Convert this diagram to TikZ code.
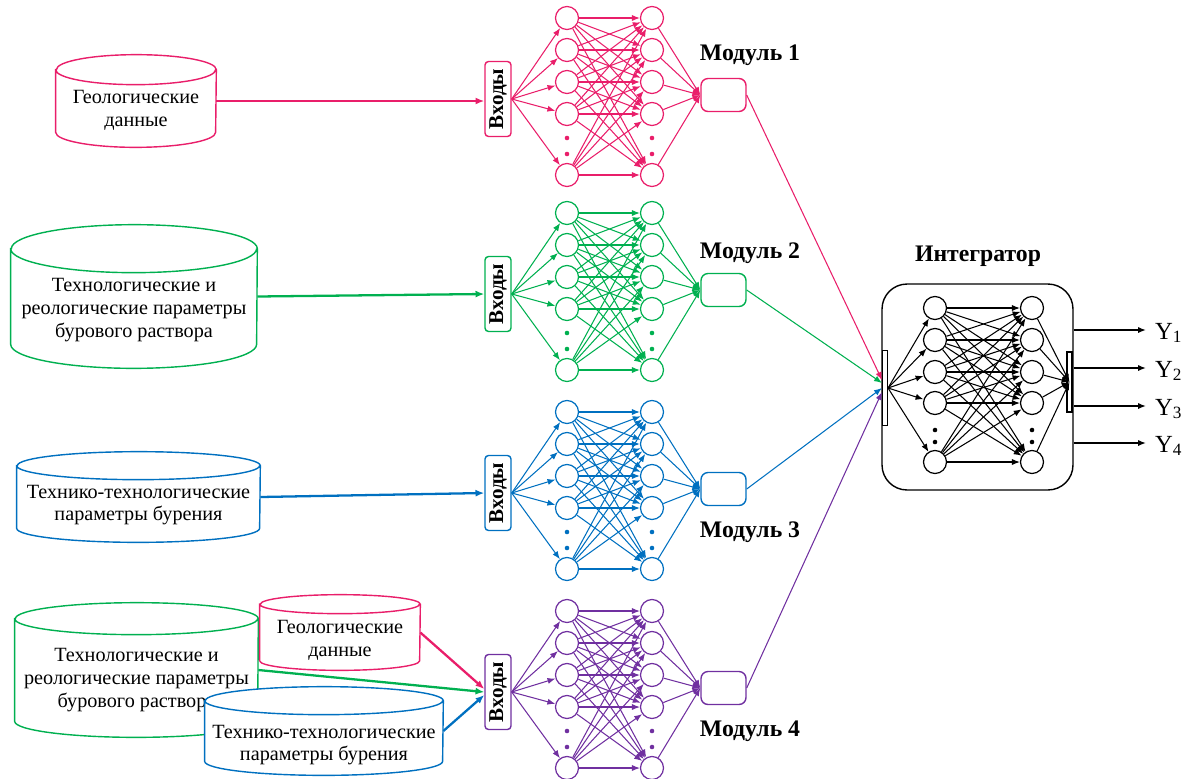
\documentclass[tikz,border=0pt]{standalone}
\usepackage{fontspec}
\setmainfont{Liberation Serif}
\usepackage{graphicx}
\usepackage{tikz}
\usetikzlibrary{calc}
\usetikzlibrary{arrows.meta}
\definecolor{crimson}{RGB}{233, 30, 106}
\definecolor{jade}{RGB}{0, 176, 80}
\definecolor{sapphire}{RGB}{0, 112, 192}
\definecolor{amethyst}{RGB}{112, 48, 160}

\tikzset{
  neuron/.style={draw, circle, minimum size=0.46cm, inner sep=0pt, line width=0.7pt},
  link/.style={-{Latex[length=4.5pt,width=3.5pt]}, line width=0.6pt},
  feed/.style={-{Latex[length=5pt,width=4pt]}, line width=1.3pt},
  inbox/.style={draw, rounded corners=2pt, minimum width=0.52cm, minimum height=1.5cm, inner sep=0pt, line width=0.8pt, text=black},
  outbox/.style={draw, rounded corners=4pt, minimum width=0.9cm, minimum height=0.66cm, inner sep=0pt, line width=0.8pt},
  bar/.style={draw, fill=white, minimum width=0.1cm, inner sep=0pt, line width=0.6pt},
  storetext/.style={align=center, font=\fontsize{11.5}{13}\selectfont},
  modlabel/.style={font=\fontsize{13.5}{15}\selectfont\bfseries},
}
% name, colour, position, width, body height, end radius
\newcommand{\storage}[6]{%
  \node[minimum width=#4, minimum height=#5, inner sep=0pt] (#1) at #3 {};
  \filldraw[#2, fill=white, line width=0.8pt]
    (#1.north west) -- (#1.south west) arc[start angle=180, end angle=360, x radius=#4/2, y radius=#6]
    -- (#1.north east) arc[start angle=0, end angle=180, x radius=#4/2, y radius=#6] -- cycle
    (#1.north west) arc[start angle=180, end angle=360, x radius=#4/2, y radius=#6];
}

\begin{document}
\begin{tikzpicture}[x=0.02cm, y=-0.02cm]
    \useasboundingbox (0,0) rectangle (1189,778);

    \foreach \m/\col/\by/\ly in {1/crimson/18/55, 2/jade/213/253, 3/sapphire/412/532, 4/amethyst/611/731}{
        \node[inbox, draw=\col] (in\m)  at (498,\by+81) {\rotatebox{90}{\fontsize{12}{12}\selectfont\bfseries Входы}};
        \node[outbox, draw=\col] (out\m) at (723.5,\by+77) {};
        \node[modlabel] (mod\m) at (750,\ly) {Модуль \m};
        \foreach \i/\dy in {1/0, 2/32, 3/64, 4/96, 5/157}{
            \node[neuron, draw=\col] (m\m-a\i) at (567,\by+\dy) {};
            \node[neuron, draw=\col] (m\m-b\i) at (652,\by+\dy) {};
            \draw[link, \col] (in\m.east) -- (m\m-a\i);
            \draw[link, \col] (m\m-b\i) -- (out\m.west);
        }
        \foreach \i in {1,...,5}
            \foreach \j in {1,...,5}
                \draw[link, \col] (m\m-a\i) -- (m\m-b\j);
        \fill[\col] (567,\by+120) circle (1.3pt) (567,\by+136) circle (1.3pt)
                    (652,\by+120) circle (1.3pt) (652,\by+136) circle (1.3pt);
    }

    \node[modlabel] (integ-title) at (978,256) {Интегратор};
    \node[draw, rounded corners=0.5cm, minimum width=3.82cm, minimum height=4.12cm, line width=0.8pt] (integ) at (977.5,387) {};
    \node[bar, minimum height=1.5cm] (lbar) at (885,388) {};
    \node[bar, minimum height=1.2cm] (rbar) at (1069.5,382) {};
    \foreach \i/\yy in {1/308, 2/340, 3/372, 4/403, 5/462}{
        \node[neuron] (int-a\i) at (935,\yy) {};
        \node[neuron] (int-b\i) at (1032,\yy) {};
        \draw[link] (lbar.east) -- (int-a\i);
        \draw[link] (int-b\i) -- (rbar.center);
    }
    \foreach \i in {1,...,5}
        \foreach \j in {1,...,5}
            \draw[link] (int-a\i) -- (int-b\j);
    \fill (935,430) circle (1.3pt) (935,442) circle (1.3pt) (1032,430) circle (1.3pt) (1032,442) circle (1.3pt);

    \foreach \k/\yy in {1/330, 2/368, 3/406, 4/443}{
        \node[anchor=west, inner sep=1pt, font=\fontsize{14}{14}\selectfont] (y\k) at (1153,\yy+3) {Y\textsubscript{\k}};
        \draw[link, line width=0.8pt] (integ.east |- 0,\yy) -- (1146,\yy);
    }

    \draw[link, crimson] (out1.east) -- ($(lbar.west)+(0,-8)$);
    \draw[link, jade] (out2.east) -- ($(lbar.west)+(0,-5)$);
    \draw[link, sapphire] (out3.east) -- ($(lbar.west)+(0,0)$);
    \draw[link, amethyst] (out4.east) -- ($(lbar.west)+(0,4)$);

    \storage{geo1}{crimson}{(136,101)}{3.2cm}{1.24cm}{0.3cm}
    \node[storetext] (geo1-txt) at (136,110) {Геологические\\данные};
    \storage{tech1}{jade}{(134,296.5)}{4.92cm}{1.9cm}{0.48cm}
    \node[storetext] (tech1-txt) at (134,310) {Технологические и\\реологические параметры\\бурового раствора};
    \storage{drill1}{sapphire}{(138.5,497)}{4.86cm}{1.24cm}{0.28cm}
    \node[storetext] (drill1-txt) at (138.5,505) {Технико-технологические\\параметры бурения};

    \storage{tech2}{jade}{(136.5,670)}{4.86cm}{2.04cm}{0.32cm}
    \node[storetext] (tech2-txt) at (136.5,680) {Технологические и\\реологические параметры\\бурового раствора};
    \storage{geo2}{crimson}{(340,632.5)}{3.2cm}{1.12cm}{0.19cm}
    \node[storetext] (geo2-txt) at (340,640) {Геологические\\данные};
    \storage{drill2}{sapphire}{(324,731)}{4.76cm}{1.2cm}{0.28cm}
    \node[storetext] (drill2-txt) at (324,745) {Технико-технологические\\параметры бурения};

    \draw[feed, crimson] (geo1.east) -- (in1.west |- geo1.east);
    \draw[feed, jade] (tech1.east) -- (in2.west);
    \draw[feed, sapphire] (drill1.east) -- (in3.west);
    \draw[feed, crimson] (geo2.east) -- ($(in4.west)+(0,-3)$);
    \draw[feed, jade] (tech2.east) -- ($(in4.west)+(0,0)$);
    \draw[feed, sapphire] (drill2.east) -- ($(in4.west)+(0,3)$);
\end{tikzpicture}
\end{document}
